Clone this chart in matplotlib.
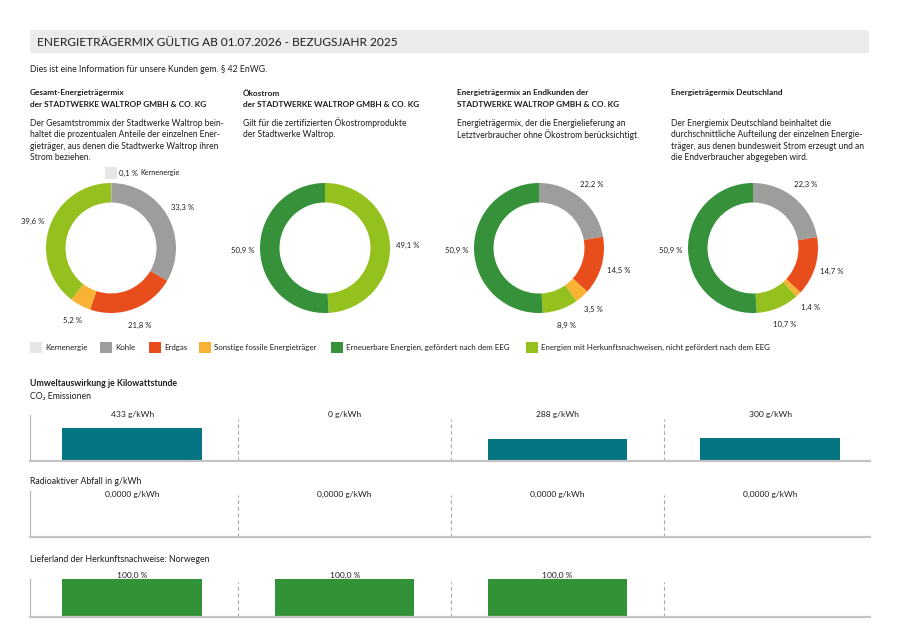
import matplotlib
matplotlib.use('Agg')
import matplotlib.pyplot as plt
from matplotlib.patches import Rectangle
import numpy as np

plt.rcParams['font.family'] = ['Lato', 'DejaVu Sans']

W, H = 900, 637
TXT = '#1d1d1b'

# ---------------- data ----------------
categories = ['Kernenergie', 'Kohle', 'Erdgas', 'Sonstige fossile Energieträger',
              'Erneuerbare Energien, gefördert nach dem EEG',
              'Energien mit Herkunftsnachweisen, nicht gefördert nach dem EEG']
cat_colors = ['#e6e6e6', '#9d9d9c', '#e84e1b', '#f9b233', '#35913a', '#95c11f']
ring_order = [0, 1, 2, 3, 5, 4]   # clockwise from 12 o'clock

mix_gesamt = [0.1, 33.3, 21.8, 5.2, 0.0, 39.6]
mix_oekostrom = [0.0, 0.0, 0.0, 0.0, 50.9, 49.1]
mix_endkunden = [0.0, 22.2, 14.5, 3.5, 50.9, 8.9]
mix_deutschland = [0.0, 22.3, 14.7, 1.4, 50.9, 10.7]
mixes = [mix_gesamt, mix_oekostrom, mix_endkunden, mix_deutschland]

col_titles = [["Gesamt-Energieträgermix", "der STADTWERKE WALTROP GMBH & CO. KG"],
              ["Ökostrom", "der STADTWERKE WALTROP GMBH & CO. KG"],
              ["Energieträgermix an Endkunden der", "STADTWERKE WALTROP GMBH & CO. KG"],
              ["Energieträgermix Deutschland"]]
col_texts = [["Der Gesamtstrommix der Stadtwerke Waltrop bein-",
              "haltet die prozentualen Anteile der einzelnen Ener-",
              "gieträger, aus denen die Stadtwerke Waltrop ihren",
              "Strom beziehen."],
             ["Gilt für die zertifizierten Ökostromprodukte",
              "der Stadtwerke Waltrop."],
             ["Energieträgermix, der die Energielieferung an",
              "Letztverbraucher ohne Ökostrom berücksichtigt."],
             ["Der Energiemix Deutschland beinhaltet die",
              "durchschnittliche Aufteilung der einzelnen Energie-",
              "träger, aus denen bundesweit Strom erzeugt und an",
              "die Endverbraucher abgegeben wird."]]

title = "ENERGIETRÄGERMIX GÜLTIG AB 01.07.2026 - BEZUGSJAHR 2025"
subtitle = "Dies ist eine Information für unsere Kunden gem. § 42 EnWG."

co2_values = [433, 0, 288, 300]
radio_values = [0.0, 0.0, 0.0, 0.0]
hkn_values = [100.0, 100.0, 100.0, None]
hkn_country = "Norwegen"


def de(v, nd):
    return f"{v:.{nd}f}".replace('.', ',')


# ---------------- figure ----------------
fig = plt.figure(figsize=(W / 100, H / 100), dpi=100)
fig.patch.set_facecolor('white')


def fx(x):
    return x / W


def fy(y):
    return 1 - y / H


def ftext(x, y, s, size=7, weight='normal', **kw):
    return fig.text(fx(x), fy(y), s, fontsize=size, fontweight=weight, color=TXT,
                    va='center', ha=kw.pop('ha', 'left'), **kw)


# header bar
fig.patches.append(Rectangle((fx(30), fy(53)), 839 / W, 23 / H, transform=fig.transFigure,
                             facecolor='#ebebeb', edgecolor='none', zorder=0))
ftext(37, 42.5, title, size=8.6)
ftext(30, 70, subtitle, size=6.35)

col_x = [30, 243, 457, 671]
for i in range(4):
    for k, line in enumerate(col_titles[i]):
        ftext(col_x[i], 93 + 11.5 * k, line, size=5.95, weight='bold')
    for k, line in enumerate(col_texts[i]):
        ftext(col_x[i], 123 + 11.6 * k, line, size=6.15)

# donuts
R = 65.0
for i, mix in enumerate(mixes):
    cx, cy = 111 + 214 * i, 248
    aw, ah = 240, 200
    ax = fig.add_axes([fx(cx - aw / 2), 1 - (cy + ah / 2) / H, aw / W, ah / H])
    vals = [mix[j] for j in ring_order if mix[j] > 0]
    cols = [cat_colors[j] for j in ring_order if mix[j] > 0]
    ax.pie(vals, colors=cols, startangle=90, counterclock=False, radius=1,
           wedgeprops=dict(width=0.3, linewidth=0))
    ax.set_xlim(-aw / 2 / R, aw / 2 / R)
    ax.set_ylim(-ah / 2 / R, ah / 2 / R)
    ax.set_axis_off()
    total = sum(vals)
    cum = 0.0
    for j in ring_order:
        v = mix[j]
        if v <= 0:
            continue
        theta = np.deg2rad(360 * (cum + v / 2) / total)
        cum += v
        if v < 1:
            ax.add_patch(Rectangle((-6 / R, 75 / R - 6 / R), 12 / R, 12 / R,
                                   facecolor=cat_colors[j], edgecolor='none'))
            t1 = ax.text(8 / R, 75 / R, de(v, 1) + ' %', fontsize=5.6, color=TXT,
                         ha='left', va='center')
            ax.annotate(categories[j], xy=(1, 0.5), xycoords=t1, xytext=(1.5, 0),
                        textcoords='offset points', fontsize=5.3, color=TXT,
                        ha='left', va='center')
        else:
            rl = 82.5 / R
            ax.text(rl * np.sin(theta), rl * np.cos(theta), de(v, 1) + ' %',
                    fontsize=5.6, color=TXT, ha='center', va='center')

# legend
legend_x = [30, 100, 149, 199, 331, 526]
for j, lx in enumerate(legend_x):
    fig.patches.append(Rectangle((fx(lx), fy(353)), 12 / W, 11 / H, transform=fig.transFigure,
                                 facecolor=cat_colors[j], edgecolor='none'))
    ftext(lx + 15, 347.5, categories[j], size=5.65)

# bottom section
ftext(30, 383, "Umweltauswirkung je Kilowattstunde", size=6.35, weight='bold')
ftext(30, 396, "CO₂ Emissionen", size=6.3)
ftext(30, 481, "Radioaktiver Abfall in g/kWh", size=6.3)
ftext(30, 559, "Lieferland der Herkunftsnachweise: " + hkn_country, size=6.35)


def bar_panel(top, bottom, values, labels, color, ymax, label_dy, dash_top):
    ax = fig.add_axes([fx(30), fy(bottom), 840 / W, (bottom - top) / H])
    x = np.arange(len(values))
    hv = [0 if v is None else v for v in values]
    ax.bar(x, hv, width=0.656, color=color, edgecolor='none')
    ax.set_xlim(-0.48, 3.47)
    ax.set_ylim(0, ymax)
    for s in ['top', 'right']:
        ax.spines[s].set_visible(False)
    ax.spines['left'].set_color('#b4b4b4')
    ax.spines['left'].set_linewidth(0.8)
    ax.spines['bottom'].set_color('#c4c4c4')
    ax.spines['bottom'].set_linewidth(1.6)
    ax.set_xticks([])
    ax.set_yticks([])
    ax.patch.set_alpha(0)
    frac = (bottom - dash_top) / (bottom - top)
    for d in [0.5, 1.5, 2.5]:
        ax.axvline(d, ymin=0, ymax=frac, color='#a8a8a8', lw=0.8, ls=(0, (3.5, 2.5)))
    for xi, lab in zip(x, labels):
        if lab:
            ax.annotate(lab, xy=(xi, 1), xycoords=('data', 'axes fraction'),
                        xytext=(0, label_dy * 0.72), textcoords='offset points',
                        ha='center', va='center', fontsize=6.1, color=TXT)
    return ax


bar_panel(415, 461, co2_values, [f"{v} g/kWh" for v in co2_values],
          '#037582', 600, 1, 419)
bar_panel(491, 537, radio_values, [de(v, 4) + " g/kWh" for v in radio_values],
          '#037582', 1, -3, 495)
bar_panel(579, 617, hkn_values, [None if v is None else de(v, 1) + " %" for v in hkn_values],
          '#329238', 100, 4, 582)

fig.savefig('out.png', dpi=100, facecolor='white')
